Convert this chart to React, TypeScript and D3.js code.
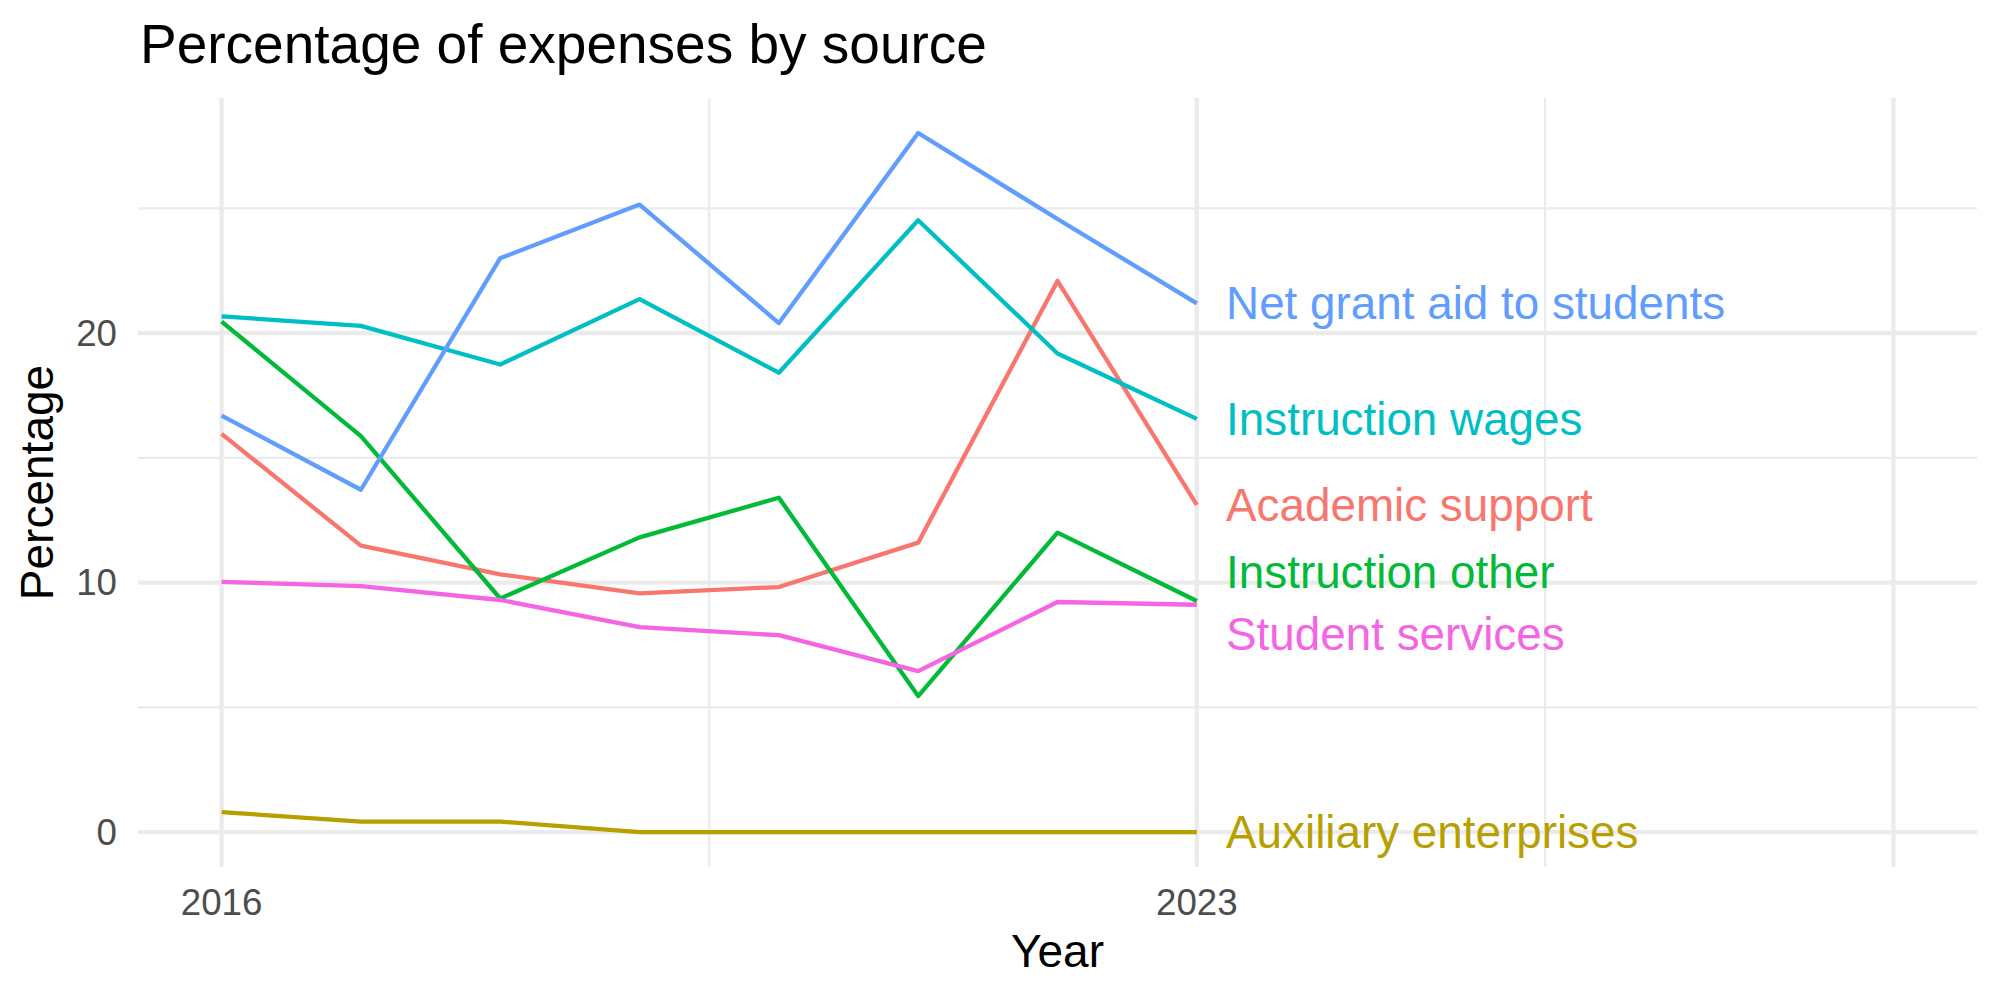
import { useMemo } from "react";
import * as d3 from "d3";

const WIDTH = 2000;
const HEIGHT = 1000;
const MARGIN = { top: 98, right: 23, bottom: 133, left: 138 };
const FONT = "'Liberation Sans', Arial, Helvetica, sans-serif";

const years = [2016, 2017, 2018, 2019, 2020, 2021, 2022, 2023];
const xLimits = [2016, 2028];
const xMajorBreaks = [2016, 2023, 2028];
const xTickLabels = ["2016", "2023", ""];
const xMinorBreaks = [2019.5, 2025.5];
const yMajorBreaks = [0, 10, 20];
const yMinorBreaks = [5, 15, 25];

const sources = [
  "Academic support",
  "Auxiliary enterprises",
  "Instruction other",
  "Instruction wages",
  "Net grant aid to students",
  "Student services",
];
const colors = ["#F8766D", "#B79F00", "#00BA38", "#00BFC4", "#619CFF", "#F564E3"];

const academicSupport = [15.96, 11.48, 10.33, 9.57, 9.82, 11.6, 22.09, 13.11];
const auxiliaryEnterprises = [0.8, 0.42, 0.42, 0, 0, 0, 0, 0];
const instructionOther = [20.46, 15.87, 9.36, 11.81, 13.4, 5.45, 12.0, 9.26];
const instructionWages = [20.67, 20.29, 18.74, 21.36, 18.41, 24.52, 19.18, 16.56];
const netGrantAid = [16.69, 13.72, 23.0, 25.15, 20.4, 28.02, 24.57, 21.19];
const studentServices = [10.03, 9.86, 9.3, 8.21, 7.89, 6.45, 9.22, 9.11];

const seriesValues = [
  academicSupport,
  auxiliaryEnterprises,
  instructionOther,
  instructionWages,
  netGrantAid,
  studentServices,
];

// simple 1D repel: keeps labels at least `gap` px apart, clusters centred on data
function repel(ys: number[], gap: number) {
  const order = ys.map((y, i) => i).sort((a, b) => ys[a] - ys[b]);
  let groups = order.map((i) => ({ ids: [i], center: ys[i] }));
  let moved = true;
  while (moved) {
    moved = false;
    for (let g = 0; g < groups.length - 1; g++) {
      const a = groups[g];
      const b = groups[g + 1];
      const aEnd = a.center + ((a.ids.length - 1) * gap) / 2;
      const bStart = b.center - ((b.ids.length - 1) * gap) / 2;
      if (bStart - aEnd < gap) {
        const ids = [...a.ids, ...b.ids];
        const center = d3.mean(ids, (i) => ys[i]) as number;
        groups.splice(g, 2, { ids, center });
        moved = true;
        break;
      }
    }
  }
  const out = ys.slice();
  groups.forEach((g) => {
    g.ids.forEach((id, k) => {
      out[id] = g.center + (k - (g.ids.length - 1) / 2) * gap;
    });
  });
  return out;
}

export default function App() {
  const boundsWidth = WIDTH - MARGIN.left - MARGIN.right;
  const boundsHeight = HEIGHT - MARGIN.top - MARGIN.bottom;

  const xScale = useMemo(() => {
    const pad = (xLimits[1] - xLimits[0]) * 0.05;
    return d3
      .scaleLinear()
      .domain([xLimits[0] - pad, xLimits[1] + pad])
      .range([0, boundsWidth]);
  }, [boundsWidth]);

  const yScale = useMemo(() => {
    const all = seriesValues.flat();
    const [lo, hi] = d3.extent(all) as [number, number];
    const pad = (hi - lo) * 0.05;
    return d3.scaleLinear().domain([lo - pad, hi + pad]).range([boundsHeight, 0]);
  }, [boundsHeight]);

  const line = d3
    .line<number>()
    .x((d, i) => xScale(years[i]))
    .y((d) => yScale(d));

  const lastYear = years[years.length - 1];
  const labelYs = repel(
    seriesValues.map((v) => yScale(v[v.length - 1])),
    62.5
  );

  return (
    <svg
      width={WIDTH}
      height={HEIGHT}
      style={{ position: "absolute", left: 0, top: 0, background: "#fff" }}
      fontFamily={FONT}
    >
      <text x={140} y={63} fontSize={55} fill="#000">
        Percentage of expenses by source
      </text>
      <g transform={`translate(${MARGIN.left},${MARGIN.top})`}>
        {yMinorBreaks.map((t) => (
          <line key={"ym" + t} x1={0} x2={boundsWidth} y1={yScale(t)} y2={yScale(t)} stroke="#EBEBEB" strokeWidth={2.2} />
        ))}
        {xMinorBreaks.map((t) => (
          <line key={"xm" + t} x1={xScale(t)} x2={xScale(t)} y1={0} y2={boundsHeight} stroke="#EBEBEB" strokeWidth={2.2} />
        ))}
        {yMajorBreaks.map((t) => (
          <line key={"yM" + t} x1={0} x2={boundsWidth} y1={yScale(t)} y2={yScale(t)} stroke="#EBEBEB" strokeWidth={4.3} />
        ))}
        {xMajorBreaks.map((t) => (
          <line key={"xM" + t} x1={xScale(t)} x2={xScale(t)} y1={0} y2={boundsHeight} stroke="#EBEBEB" strokeWidth={4.3} />
        ))}

        {seriesValues.map((v, i) => (
          <path
            key={sources[i]}
            d={line(v) || ""}
            fill="none"
            stroke={colors[i]}
            strokeWidth={4.3}
            strokeLinejoin="round"
          />
        ))}

        {sources.map((s, i) => (
          <text
            key={"lab" + s}
            x={xScale(lastYear + 0.21)}
            y={labelYs[i]}
            dy="0.35em"
            fontSize={45.8}
            fill={colors[i]}
          >
            {s}
          </text>
        ))}

        {yMajorBreaks.map((t) => (
          <text key={"yt" + t} x={-21} y={yScale(t)} dy="0.35em" textAnchor="end" fontSize={36.7} fill="#4D4D4D">
            {t}
          </text>
        ))}
        {xMajorBreaks.map((t, i) => (
          <text key={"xt" + t} x={xScale(t)} y={boundsHeight + 48} textAnchor="middle" fontSize={36.7} fill="#4D4D4D">
            {xTickLabels[i]}
          </text>
        ))}

        <text x={boundsWidth / 2} y={boundsHeight + 100} textAnchor="middle" fontSize={46} fill="#000">
          Year
        </text>
        <text
          transform={`translate(${53 - MARGIN.left},${boundsHeight / 2}) rotate(-90)`}
          textAnchor="middle"
          fontSize={46}
          fill="#000"
        >
          Percentage
        </text>
      </g>
    </svg>
  );
}
